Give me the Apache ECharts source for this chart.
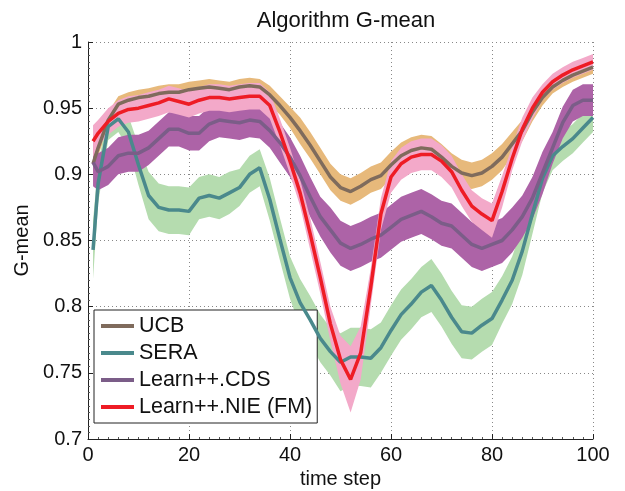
<!DOCTYPE html>
<html>
<head>
<meta charset="utf-8">
<script src="https://cdn.jsdelivr.net/npm/echarts@6/dist/echarts.min.js"></script>
<style>
html,body{margin:0;padding:0;background:#fff;}
#chart{width:625px;height:491px;}
</style>
</head>
<body>
<div id="chart"></div>
<script>
// time steps
const steps = [1,2,4,6,8,10,12,14,16,18,20,22,24,26,28,30,32,34,36,38,40,42,44,46,48,50,52,54,56,58,60,62,64,66,68,70,72,74,76,78,80,82,84,86,88,90,92,94,96,98,100];

const ucbMean = [0.908,0.920,0.941,0.953,0.956,0.958,0.959,0.961,0.962,0.962,0.964,0.965,0.966,0.965,0.964,0.966,0.967,0.966,0.960,0.952,0.943,0.933,0.922,0.910,0.898,0.890,0.887,0.891,0.896,0.899,0.907,0.914,0.918,0.920,0.919,0.913,0.906,0.901,0.899,0.901,0.906,0.913,0.923,0.933,0.947,0.958,0.966,0.971,0.975,0.978,0.981];
const ucbHalf = [0.006,0.006,0.006,0.006,0.006,0.006,0.006,0.006,0.006,0.006,0.006,0.006,0.006,0.006,0.006,0.006,0.006,0.006,0.007,0.007,0.008,0.010,0.010,0.010,0.010,0.010,0.010,0.010,0.010,0.010,0.010,0.010,0.010,0.010,0.010,0.010,0.010,0.010,0.010,0.010,0.010,0.010,0.009,0.008,0.007,0.006,0.005,0.005,0.005,0.005,0.005];

const seraMean = [0.843,0.893,0.936,0.942,0.932,0.907,0.884,0.875,0.873,0.873,0.872,0.882,0.884,0.882,0.886,0.890,0.900,0.905,0.881,0.851,0.822,0.803,0.790,0.776,0.766,0.758,0.762,0.762,0.761,0.769,0.782,0.794,0.802,0.811,0.816,0.805,0.792,0.781,0.780,0.786,0.791,0.805,0.820,0.842,0.870,0.897,0.914,0.921,0.927,0.935,0.943];
const seraHalf = [0.022,0.015,0.010,0.010,0.012,0.015,0.018,0.018,0.018,0.018,0.018,0.016,0.016,0.016,0.016,0.014,0.014,0.014,0.016,0.016,0.016,0.018,0.018,0.018,0.018,0.022,0.022,0.022,0.022,0.019,0.019,0.019,0.019,0.019,0.020,0.020,0.020,0.020,0.020,0.020,0.020,0.018,0.018,0.018,0.015,0.011,0.011,0.011,0.011,0.011,0.011];

const cdsMean = [0.909,0.902,0.906,0.914,0.916,0.916,0.920,0.927,0.934,0.934,0.931,0.931,0.938,0.941,0.940,0.939,0.941,0.940,0.933,0.924,0.913,0.899,0.883,0.868,0.858,0.848,0.844,0.847,0.851,0.854,0.860,0.866,0.869,0.872,0.868,0.863,0.861,0.854,0.847,0.844,0.847,0.850,0.858,0.868,0.882,0.901,0.920,0.939,0.952,0.956,0.956];
const cdsHalf = [0.018,0.014,0.014,0.014,0.014,0.014,0.013,0.013,0.013,0.013,0.013,0.013,0.013,0.013,0.013,0.013,0.013,0.013,0.013,0.015,0.015,0.015,0.015,0.015,0.017,0.017,0.017,0.017,0.017,0.017,0.017,0.017,0.017,0.017,0.017,0.017,0.017,0.017,0.017,0.017,0.017,0.017,0.017,0.016,0.016,0.016,0.012,0.012,0.012,0.012,0.012];

const nieMean = [0.925,0.931,0.940,0.946,0.949,0.950,0.952,0.954,0.957,0.955,0.953,0.956,0.958,0.958,0.957,0.958,0.959,0.959,0.952,0.932,0.910,0.886,0.855,0.822,0.787,0.760,0.745,0.765,0.815,0.870,0.898,0.908,0.913,0.915,0.915,0.910,0.902,0.888,0.876,0.870,0.865,0.887,0.912,0.934,0.950,0.962,0.970,0.975,0.979,0.982,0.985];
const nieHalf = [0.012,0.010,0.010,0.010,0.010,0.010,0.010,0.010,0.010,0.010,0.010,0.010,0.010,0.010,0.010,0.010,0.010,0.010,0.010,0.010,0.010,0.010,0.012,0.012,0.013,0.018,0.025,0.020,0.014,0.012,0.012,0.012,0.012,0.012,0.012,0.012,0.012,0.012,0.012,0.012,0.013,0.012,0.009,0.009,0.008,0.006,0.006,0.006,0.006,0.006,0.006];

const names = ['UCB','SERA','Learn++.CDS','Learn++.NIE (FM)'];
const lineColors = ['#7f6b5c','#4a898c','#7b5d88','#ee1c25'];
const bandColors = ['#e7b97b','#b5dcaf','#ad63a7','#f3a9c9'];

const means = [ucbMean, seraMean, cdsMean, nieMean];
const halves = [ucbHalf, seraHalf, cdsHalf, nieHalf];

function band(idx){
  const m = means[idx], h = halves[idx];
  return {
    type:'custom', name: names[idx]+' band', silent:true, z:1,
    data: steps.map((x,i)=>[x, m[i]-h[i], m[i]+h[i]]),
    encode:{x:0, y:[1,2]},
    renderItem:function(params, api){
      if (params.dataIndex !== 0) return null;
      const up=[], lo=[];
      for (let i=0;i<steps.length;i++){
        up.push(api.coord([steps[i], m[i]+h[i]]));
        lo.push(api.coord([steps[i], m[i]-h[i]]));
      }
      return {type:'polygon', shape:{points: up.concat(lo.reverse())}, style:{fill: bandColors[idx], stroke:null}};
    }
  };
}
function line(idx){
  return {
    type:'line', name:names[idx], z:5,
    data: steps.map((x,i)=>[x, means[idx][i]]),
    symbol:'none', showSymbol:false, animation:false,
    lineStyle:{color:lineColors[idx], width:3.5},
    itemStyle:{color:lineColors[idx]}
  };
}

const font = 'Liberation Sans, Arial, Helvetica, sans-serif';
const chart = echarts.init(document.getElementById('chart'), null, {renderer:'canvas'});
chart.setOption({
  animation:false,
  backgroundColor:'#fff',
  title:{text:'Algorithm G-mean', left:341, top:5, textAlign:'center',
    textStyle:{fontFamily:font, fontSize:22, fontWeight:'normal', color:'#111'}},
  grid:{left:88, right:32, top:42, bottom:52, containLabel:false, outerBoundsMode:'none'},
  legend:{
    data:names.map(n=>({name:n, icon:'rect'})), orient:'vertical', left:94, top:310,
    backgroundColor:'#fff', borderColor:'#222', borderWidth:1, borderRadius:0,
    padding:[5,5,5,7], itemGap:5, itemWidth:33, itemHeight:4,
    textStyle:{fontFamily:font, fontSize:21.5, color:'#111', lineHeight:21, padding:[0,0,0,0]},
    selectedMode:false
  },
  xAxis:{
    type:'value', min:0, max:100, interval:20,
    name:'time step', nameLocation:'middle', nameGap:29,
    nameTextStyle:{fontFamily:font, fontSize:20, color:'#111'},
    axisLine:{show:true, lineStyle:{color:'#222', width:1}},
    axisTick:{show:true, inside:true, length:5, lineStyle:{color:'#222'}},
    minorTick:{show:true, splitNumber:10, length:2, lineStyle:{color:'#555'}},
    axisLabel:{fontFamily:font, fontSize:20, color:'#111', margin:6},
    splitLine:{show:true, lineStyle:{color:'#888', type:[1,3], width:1}}
  },
  yAxis:{
    type:'value', min:0.7, max:1, interval:0.05,
    name:'G-mean', nameLocation:'middle', nameGap:55,
    nameTextStyle:{fontFamily:font, fontSize:20, color:'#111'},
    axisLine:{show:true, lineStyle:{color:'#222', width:1}},
    axisTick:{show:true, inside:true, length:5, lineStyle:{color:'#222'}},
    minorTick:{show:true, splitNumber:10, length:2, lineStyle:{color:'#555'}},
    axisLabel:{fontFamily:font, fontSize:20, color:'#111', margin:6},
    splitLine:{show:true, lineStyle:{color:'#888', type:[1,3], width:1}}
  },
  series:[band(0), band(1), band(2), band(3), line(0), line(1), line(2), line(3)]
});
</script>
</body>
</html>
